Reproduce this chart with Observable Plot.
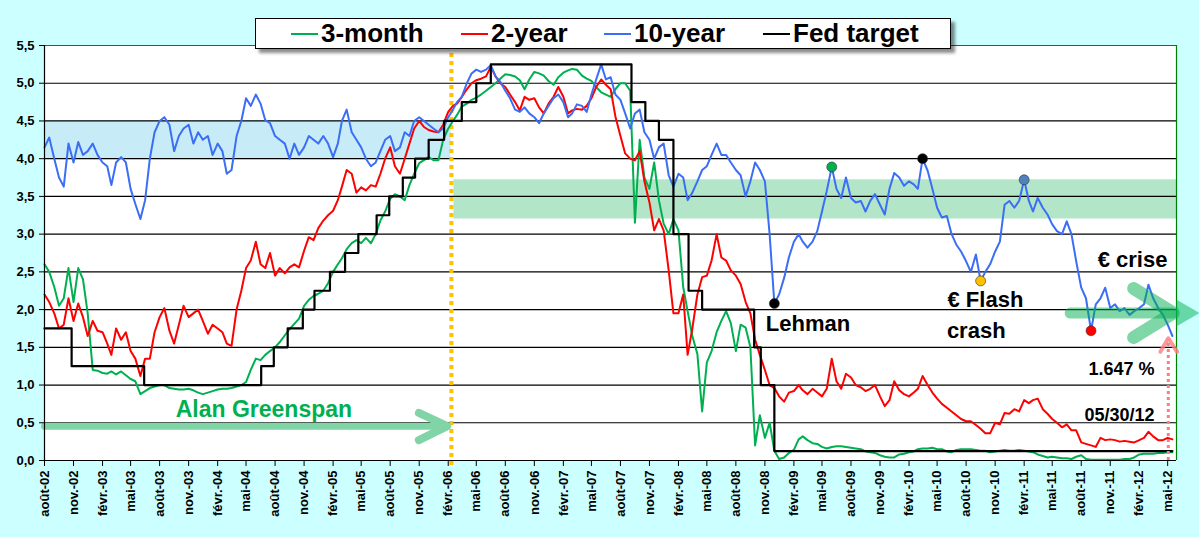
<!DOCTYPE html>
<html><head><meta charset="utf-8">
<script src="https://cdn.jsdelivr.net/npm/d3@7"></script>
<script src="https://cdn.jsdelivr.net/npm/@observablehq/plot@0.6"></script>
<style>
body{margin:0;background:#ccffff;font-family:"Liberation Sans",Arial,sans-serif;}
#wrap{position:relative;width:1199px;height:537px;overflow:hidden;}
#legend{position:absolute;left:255px;top:18px;width:694px;height:29px;background:#fff;border:1.5px solid #000;box-shadow:4px 4px 3px rgba(0,0,0,0.45);}
.item{position:absolute;top:0;height:29px;display:flex;align-items:center;white-space:nowrap;}
.item i{display:inline-block;width:27px;height:2px;margin-right:3px;}
.item span{font-weight:bold;font-size:26px;line-height:29px;color:#000;}
</style></head>
<body>
<div id="wrap">
  <div id="chart"></div>
  <div id="legend"></div>
</div>
<script>
// ---------- data (semi-monthly samples) ----------
const startDate = "2002-08-01";
const endDate = "2012-05-29";

const m3 = [
 2.6,2.5,2.3,2.05,2.15,2.55,2.1,2.55,2.4,1.95,1.2,1.19,1.16,1.15,1.18,1.14,1.18,1.13,1.08,1.05,0.88,0.92,0.96,0.98,
 1.0,1.0,0.96,0.95,0.94,0.94,0.95,0.93,0.9,0.88,0.9,0.92,0.94,0.95,0.95,0.96,0.98,1.0,1.04,1.2,1.35,1.33,1.4,1.45,
 1.5,1.57,1.66,1.74,1.81,1.88,2.05,2.13,2.18,2.21,2.25,2.35,2.5,2.6,2.68,2.8,2.88,2.92,2.88,2.95,2.88,3.0,3.18,3.3,
 3.47,3.53,3.5,3.45,3.65,3.8,3.94,3.98,4.02,3.98,3.98,4.25,4.4,4.5,4.58,4.69,4.73,4.78,4.81,4.85,4.9,4.95,5.0,5.06,
 5.12,5.11,5.09,5.04,4.92,5.05,5.15,5.13,5.1,5.03,4.98,5.08,5.14,5.17,5.19,5.18,5.1,5.06,5.03,4.95,4.88,4.85,4.82,4.92,
 5.0,5.0,4.9,3.15,4.25,3.75,3.6,3.95,3.45,3.14,3.0,3.2,3.05,2.3,1.98,1.65,1.41,0.65,1.3,1.45,1.7,1.85,1.98,1.82,
 1.45,1.8,1.76,1.5,0.2,0.6,0.3,0.5,0.13,0.02,0.04,0.1,0.14,0.28,0.32,0.27,0.23,0.22,0.18,0.16,0.18,0.19,0.19,0.18,
 0.17,0.16,0.15,0.12,0.11,0.1,0.07,0.05,0.04,0.04,0.08,0.09,0.11,0.12,0.15,0.16,0.16,0.17,0.15,0.15,0.12,0.11,0.14,0.15,
 0.15,0.15,0.14,0.13,0.13,0.11,0.12,0.13,0.14,0.13,0.13,0.14,0.13,0.12,0.11,0.08,0.06,0.04,0.05,0.04,0.03,0.03,0.02,0.05,
 0.07,0.02,0.01,0.01,0.01,0.01,0.01,0.01,0.01,0.02,0.02,0.04,0.08,0.09,0.09,0.09,0.1,0.1,0.11,0.11
];
const y2 = [
 2.2,2.1,1.95,1.75,1.8,2.15,1.85,2.08,1.9,1.65,1.85,1.72,1.7,1.55,1.4,1.75,1.6,1.7,1.45,1.35,1.12,1.35,1.35,1.7,
 1.9,2.02,1.72,1.55,1.8,2.05,1.9,1.95,2.0,1.85,1.68,1.8,1.75,1.7,1.55,1.52,2.0,2.25,2.55,2.65,2.9,2.6,2.55,2.75,
 2.45,2.55,2.48,2.56,2.6,2.56,2.78,2.96,2.92,3.08,3.18,3.25,3.31,3.45,3.63,3.85,3.8,3.55,3.62,3.58,3.65,3.63,3.8,4.0,
 4.15,3.9,3.8,4.0,4.2,4.4,4.5,4.42,4.38,4.36,4.35,4.45,4.62,4.7,4.73,4.82,4.92,5.0,5.04,5.06,5.09,5.22,5.09,5.0,
 4.95,4.85,4.75,4.64,4.82,4.78,4.8,4.68,4.6,4.73,4.82,4.95,4.82,4.6,4.64,4.66,4.65,4.7,4.8,4.95,5.05,4.98,4.92,4.56,
 4.3,4.07,4.0,3.98,4.1,3.7,3.42,3.05,3.2,3.05,2.52,1.95,1.95,2.2,1.4,1.75,2.2,2.43,2.45,2.65,3.0,2.69,2.65,2.52,
 2.45,2.34,2.1,1.95,1.6,1.4,1.2,1.0,0.96,0.85,0.78,0.9,0.92,1.0,0.93,0.88,0.95,0.9,0.85,0.95,1.35,1.05,0.95,1.15,
 1.1,1.0,0.97,0.92,0.95,1.0,0.85,0.72,0.8,1.05,0.93,0.88,0.85,0.9,0.95,1.12,1.0,0.9,0.82,0.75,0.7,0.65,0.6,0.55,
 0.52,0.52,0.47,0.42,0.36,0.36,0.5,0.48,0.63,0.62,0.68,0.65,0.8,0.76,0.8,0.82,0.68,0.62,0.55,0.5,0.44,0.48,0.4,0.4,
 0.24,0.22,0.2,0.18,0.3,0.27,0.28,0.27,0.25,0.26,0.25,0.24,0.27,0.3,0.38,0.32,0.27,0.27,0.3,0.28
];
const y10 = [
 4.15,4.28,4.0,3.75,3.63,4.2,3.95,4.22,4.05,4.1,4.2,4.05,3.95,3.9,3.65,3.95,4.02,3.95,3.6,3.4,3.2,3.45,4.0,4.35,
 4.5,4.55,4.45,4.1,4.3,4.4,4.45,4.2,4.35,4.25,4.3,4.05,4.2,4.1,3.8,3.85,4.3,4.5,4.8,4.7,4.85,4.73,4.51,4.47,
 4.3,4.25,4.2,4.0,4.2,4.05,4.15,4.3,4.25,4.2,4.3,4.2,4.02,4.2,4.5,4.65,4.35,4.25,4.15,4.0,3.9,3.95,4.1,4.25,
 4.3,4.1,4.15,4.35,4.3,4.5,4.55,4.5,4.45,4.4,4.35,4.4,4.55,4.65,4.75,4.82,5.0,5.13,5.18,5.15,5.18,5.24,5.09,5.02,
 4.9,4.8,4.65,4.62,4.68,4.6,4.55,4.47,4.6,4.7,4.8,4.85,4.75,4.55,4.6,4.72,4.7,4.62,4.85,5.05,5.25,5.05,5.08,4.85,
 4.78,4.6,4.4,4.6,4.65,4.35,4.25,4.0,4.15,4.2,3.78,3.63,3.8,3.75,3.45,3.55,3.7,3.85,3.9,4.05,4.2,4.05,4.05,3.95,
 3.85,3.78,3.5,3.7,3.95,3.85,3.7,3.0,2.08,2.2,2.42,2.69,2.9,3.0,2.9,2.82,2.9,3.04,3.3,3.57,3.89,3.6,3.48,3.75,
 3.48,3.42,3.44,3.3,3.44,3.53,3.39,3.26,3.6,3.81,3.75,3.64,3.7,3.66,3.6,4.0,3.84,3.6,3.35,3.22,3.24,3.0,2.86,2.77,
 2.64,2.5,2.73,2.38,2.5,2.6,2.77,2.9,3.39,3.44,3.35,3.44,3.72,3.44,3.3,3.48,3.35,3.26,3.13,3.04,3.0,3.17,3.0,2.64,
 2.29,2.15,1.72,2.07,2.15,2.29,2.02,2.07,1.98,2.02,1.93,1.98,2.02,2.07,2.33,2.15,2.02,1.93,1.8,1.65
];

const fedDates = ["2002-08-01","2002-10-26","2003-06-13","2004-06-18","2004-07-28","2004-09-10","2004-10-28","2004-12-04",
 "2005-01-22","2005-03-11","2005-04-22","2005-06-19","2005-07-29","2005-09-10","2005-10-19","2005-12-01","2006-01-19",
 "2006-03-16","2006-05-01","2006-06-16","2007-09-05","2007-10-19","2007-12-01","2008-01-16","2008-03-04","2008-04-16",
 "2008-09-28","2008-10-19","2008-12-01","2012-05-16"];
const fedRates = [1.75,1.25,1.0,1.25,1.5,1.75,2.0,2.25,2.5,2.75,3.0,3.25,3.5,3.75,4.0,4.25,4.5,4.75,5.0,5.25,4.75,4.5,4.25,3.0,2.25,2.0,1.5,1.0,0.125,0.125];

const tickLabels = ["août-02","nov.-02","févr.-03","mai-03","août-03","nov.-03","févr.-04","mai-04","août-04","nov.-04",
 "févr.-05","mai-05","août-05","nov.-05","févr.-06","mai-06","août-06","nov.-06","févr.-07","mai-07","août-07","nov.-07",
 "févr.-08","mai-08","août-08","nov.-08","févr.-09","mai-09","août-09","nov.-09","févr.-10","mai-10","août-10","nov.-10",
 "févr.-11","mai-11","août-11","nov.-11","févr.-12","mai-12"];
const yTicks = [0,0.5,1,1.5,2,2.5,3,3.5,4,4.5,5,5.5];
const gridValues = [0.5,1,1.5,2,2.5,3,3.5,4,4.5,5];

// highlighted points on the 10-year curve
const dotDates = ["2008-12-01","2009-06-01","2010-03-16","2010-09-16","2011-02-01","2011-09-01"];
const dotValues = [2.08,3.89,4.0,2.38,3.72,1.72];
const dotColors = ["#000000","#00b050","#000000","#ffc000","#4f81bd","#ff0000"];

// annotations
const bigLabels = ["Lehman","€ Flash","crash","€ crise"];
const bigDates = ["2008-11-04","2010-06-03","2010-06-01","2011-09-22"];
const bigValues = [1.72,2.03,1.62,2.56];
const smallLabels = ["1.647 %","05/30/12"];
const smallDates = ["2011-08-24","2011-08-11"];
const smallValues = [1.13,0.53];

// shaded bands
const bandX1 = ["2002-08-01","2006-02-19"];
const bandX2 = ["2006-02-10","2012-05-29"];
const bandLow = [4.0,3.2];
const bandHigh = [4.5,3.72];
const bandColors = ["#c7ecf8","#b3e6c9"];

// arrows
const gsShaftDates = ["2002-08-01","2006-01-09"], gsShaftValues = [0.455,0.455];
const gsHeadDates = ["2005-10-31","2006-01-29","2005-10-31"], gsHeadValues = [0.63,0.455,0.27];
const euShaftDates = ["2011-06-27","2012-05-16"], euShaftValues = [1.955,1.955];
const euHeadDates = ["2012-01-14","2012-05-19","2012-01-14"], euHeadValues = [2.28,1.955,1.63];
const euTipDate = "2012-06-22", euTipValue = 1.955;
const pinkDate = "2012-05-03", pinkFrom = 0, pinkTo = 1.6;
const pinkHeadDates = ["2012-04-08","2012-05-03","2012-05-31"], pinkHeadValues = [1.44,1.62,1.44];
const greenspanDate = "2006-02-11";

// ---------- build ----------
const D = s => new Date(s + "T00:00:00Z");
const x0 = D(startDate), x1 = D(endDate);
const gridDates = d3.range(m3.length).map(k => {
  const d = d3.utcMonth.offset(x0, Math.floor(k / 2));
  return k % 2 ? d3.utcDay.offset(d, 15) : d;
});
const series = gridDates.map((d, i) => ({date: d, m3: m3[i], y2: y2[i], y10: y10[i]}));
const fed = fedDates.map((d, i) => ({date: D(d), rate: fedRates[i]}));
const tickDates = tickLabels.map((_, i) => d3.utcMonth.offset(x0, 3 * i));
const labelMap = new Map(tickDates.map((d, i) => [+d, tickLabels[i]]));
const dots = dotDates.map((d, i) => ({date: D(d), v: dotValues[i], c: dotColors[i]}));
const big = bigLabels.map((t, i) => ({date: D(bigDates[i]), v: bigValues[i], t}));
const small = smallLabels.map((t, i) => ({date: D(smallDates[i]), v: smallValues[i], t}));
const bands = bandX1.map((d, i) => ({x1: D(d), x2: D(bandX2[i]), y1: bandLow[i], y2: bandHigh[i], f: bandColors[i]}));
const pts = (ds, vs) => ds.map((d, i) => ({date: D(d), v: vs[i]}));

const chart = Plot.plot({
  width: 1199, height: 537,
  marginLeft: 44, marginRight: 23, marginTop: 45, marginBottom: 77,
  style: {background: "#ccffff", fontFamily: "'Liberation Sans', Arial, sans-serif", color: "black"},
  x: {type: "utc", domain: [x0, x1], label: null},
  y: {domain: [0, 5.5], label: null},
  marks: [
    Plot.frame({fill: "white", stroke: "none"}),
    Plot.rect(bands, {x1: "x1", x2: "x2", y1: "y1", y2: "y2", fill: "f"}),
    Plot.ruleY(gridValues, {stroke: "black", strokeWidth: 1.2}),
    Plot.ruleY([5.5], {stroke: "#008000", strokeWidth: 1.2}),
    Plot.ruleX([x1], {stroke: "#008000", strokeWidth: 1.2}),
    Plot.ruleX([D(greenspanDate)], {y1: 5.5, y2: -0.08, stroke: "#ffc000", strokeWidth: 4, strokeDasharray: "4,4"}),
    Plot.line(pts(gsShaftDates, gsShaftValues), {x: "date", y: "v", stroke: "#80d4a6", strokeWidth: 7}),
    Plot.line(pts(gsHeadDates, gsHeadValues), {x: "date", y: "v", stroke: "#80d4a6", strokeWidth: 8, strokeLinecap: "round", strokeLinejoin: "round"}),
    Plot.line(series, {x: "date", y: "m3", stroke: "#00b050", strokeWidth: 2}),
    Plot.line(series, {x: "date", y: "y2", stroke: "#ff0000", strokeWidth: 2}),
    Plot.line(series, {x: "date", y: "y10", stroke: "#3b6ef5", strokeWidth: 2}),
    Plot.line(fed, {x: "date", y: "rate", curve: "step-after", stroke: "black", strokeWidth: 2.2}),
    Plot.line(pts(euShaftDates, euShaftValues), {x: "date", y: "v", stroke: "#00b050", strokeOpacity: 0.5, strokeWidth: 11}),
    Plot.line(pts(euHeadDates, euHeadValues), {x: "date", y: "v", stroke: "#00b050", strokeOpacity: 0.5, strokeWidth: 13, strokeLinecap: "round", strokeLinejoin: "round"}),
    Plot.dot([{date: D(euTipDate), v: euTipValue}], {x: "date", y: "v", symbol: "triangle", r: 10, rotate: 90, fill: "#00b050", fillOpacity: 0.5, stroke: "none"}),
    Plot.ruleX([D(pinkDate)], {y1: pinkFrom, y2: pinkTo, stroke: "#ff7c80", strokeWidth: 3, strokeDasharray: "3,3"}),
    Plot.line(pts(pinkHeadDates, pinkHeadValues), {x: "date", y: "v", stroke: "#ff7c80", strokeOpacity: 0.8, strokeWidth: 4, strokeLinecap: "round", strokeLinejoin: "round"}),
    Plot.dot(dots, {x: "date", y: "v", fill: "c", r: 5, stroke: "#333", strokeWidth: 0.6}),
    Plot.text(big, {x: "date", y: "v", text: "t", textAnchor: "start", lineAnchor: "bottom", fontSize: 22, fontWeight: "bold", fill: "black"}),
    Plot.text(small, {x: "date", y: "v", text: "t", textAnchor: "start", lineAnchor: "bottom", fontSize: 18, fontWeight: "bold", fill: "black"}),
    Plot.text([{date: D("2003-09-21"), v: 0.574, t: "Alan Greenspan"}], {x: "date", y: "v", text: "t", textAnchor: "start", lineAnchor: "bottom", fontSize: 23, fontWeight: "bold", fill: "#00b050"}),
    Plot.axisY({ticks: yTicks, tickFormat: d => d.toFixed(1).replace(".", ","), tickSize: 5, tickPadding: 5, fontSize: 13, fontWeight: "bold", label: null}),
    Plot.axisX({ticks: tickDates, tickFormat: d => labelMap.get(+d), tickRotate: -90, tickSize: 6, tickPadding: 4, fontSize: 13, fontWeight: "bold", label: null}),
    Plot.ruleX([x0], {stroke: "black", strokeWidth: 1.2}),
    Plot.ruleY([0], {stroke: "black", strokeWidth: 1.2})
  ]
});
document.getElementById("chart").appendChild(chart);

// legend
const legendNames = ["3-month","2-year","10-year","Fed target"];
const legendColors = ["#00b050","#ff0000","#3b6ef5","#000000"];
const legendLeft = [35, 205, 348, 507];
const lg = document.getElementById("legend");
legendNames.forEach((n, i) => {
  const it = document.createElement("div");
  it.className = "item";
  it.style.left = legendLeft[i] + "px";
  it.innerHTML = `<i style="background:${legendColors[i]}"></i><span>${n}</span>`;
  lg.appendChild(it);
});
</script>
</body></html>
